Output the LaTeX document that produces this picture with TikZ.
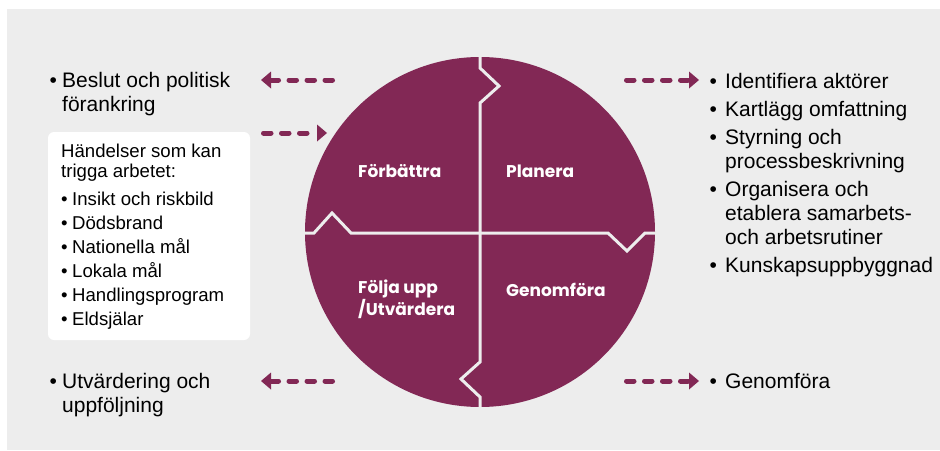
\documentclass[tikz,border=0pt]{standalone}
\usepackage{fontspec}
\setmainfont{Liberation Sans}
\newfontfamily\labfont{Poppins}
\usetikzlibrary{arrows.meta}
\definecolor{pur}{RGB}{130,40,85}
\definecolor{bg}{RGB}{237,237,237}
\newcommand\bl[1]{\makebox[#1][l]{\textbullet}}
\tikzset{
  txt/.style={inner sep=0pt, anchor=base west, font=\fontsize{21}{24}\selectfont, text=black},
  boxtxt/.style={inner sep=0pt, anchor=base west, font=\fontsize{18.6}{24}\selectfont, text=black},
  lab/.style={inner sep=0pt, anchor=base west, font=\labfont\bfseries\fontsize{17}{22}\selectfont, text=white},
  sep/.style={draw=bg, line width=3pt, line join=miter},
  darr/.style={draw=pur, line width=5pt, line cap=round, dash pattern=on 7.5pt off 10.5pt,
    -{Triangle[length=10pt,width=17pt,line width=0pt 0]}},
}
\begin{document}
\begin{tikzpicture}[x=1pt,y=-1pt]
\useasboundingbox (0,0) rectangle (940,450);
\fill[bg] (7,9) rectangle (940,450);

% circle
\node[circle, fill=pur, minimum size=350pt, inner sep=0pt] (c) at (480,232) {};
% separators
\coordinate (vt) at (480,50);
\coordinate (vb) at (480,414);
\coordinate (hl) at (298,233);
\coordinate (hr) at (662,233);
\coordinate (cc) at (480,233);
\draw[sep] (vt) -- (480,68) -- (499,86) -- (480,103) -- (cc);
\draw[sep] (cc) -- (480,362) -- (461,379) -- (480,397) -- (vb);
\draw[sep] (hl) -- (314,233) -- (332,213) -- (351,233) -- (cc);
\draw[sep] (cc) -- (608,233) -- (627,251) -- (645,233) -- (hr);

% quadrant labels
\node[lab] (fb) at (358,177) {Förbättra};
\node[lab] (pl) at (506,177) {Planera};
\node[lab] (fu) at (358,293) {\parbox[t]{110pt}{Följa upp\\/Utvärdera}};
\node[lab] (gf) at (506,296) {Genomföra};

% white box
\node[fill=white, rounded corners=6pt, minimum width=202pt, minimum height=208pt, inner sep=0pt] (box) at (149,236) {};
\node[boxtxt] (boxt) at (61,157) {\parbox[t]{185pt}{\raggedright
Händelser som kan\\[-4pt]
trigga arbetet:\\[4pt]
\bl{11pt}Insikt och riskbild\\
\bl{11pt}Dödsbrand\\
\bl{11pt}Nationella mål\\
\bl{11pt}Lokala mål\\
\bl{11pt}Handlingsprogram\\
\bl{11pt}Eldsjälar}};

% left texts
\node[txt] (beslut) at (49.5,87) {\parbox[t]{220pt}{\raggedright
\bl{12.5pt}Beslut och politisk\\
\hspace*{12.5pt}förankring}};
\node[txt] (utv) at (49.5,388) {\parbox[t]{220pt}{\raggedright
\bl{12.5pt}Utvärdering och\\
\hspace*{12.5pt}uppföljning}};

% right texts
\node[txt] (rl) at (709.5,88) {\parbox[t]{240pt}{\raggedright
\bl{15.5pt}Identifiera aktörer\\[4.6pt]
\bl{15.5pt}Kartlägg omfattning\\[4pt]
\bl{15.5pt}Styrning och\\
\hspace*{15.5pt}processbeskrivning\\[4pt]
\bl{15.5pt}Organisera och\\
\hspace*{15.5pt}etablera samarbets-\\
\hspace*{15.5pt}och arbetsrutiner\\[4pt]
\bl{15.5pt}Kunskapsuppbyggnad}};
\node[txt] (gen) at (709.5,388) {\bl{15.5pt}Genomföra};

% arrows
\coordinate (a1s) at (332.5,80);  \coordinate (a1e) at (261,80);
\coordinate (a2s) at (263.5,133); \coordinate (a2e) at (327,133);
\coordinate (a3s) at (626.5,80);  \coordinate (a3e) at (699,80);
\coordinate (a4s) at (332.5,381); \coordinate (a4e) at (261,381);
\coordinate (a5s) at (626.5,381); \coordinate (a5e) at (699,381);
\draw[darr] (a1s) -- (a1e);
\draw[darr] (a2s) -- (a2e);
\draw[darr] (a3s) -- (a3e);
\draw[darr] (a4s) -- (a4e);
\draw[darr] (a5s) -- (a5e);
\end{tikzpicture}
\end{document}
